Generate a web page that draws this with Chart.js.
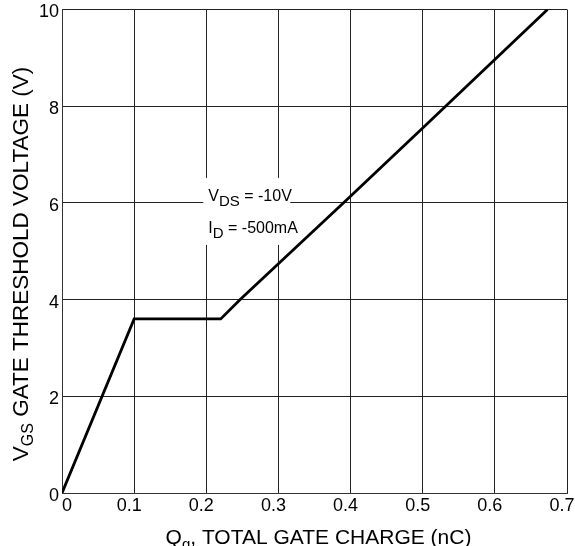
<!DOCTYPE html>
<html>
<head>
<meta charset="utf-8">
<script src="https://cdn.jsdelivr.net/npm/chart.js@4"></script>
<style>
  html, body { margin: 0; padding: 0; background: #fff; }
  #wrap { width: 575px; height: 546px; }
</style>
</head>
<body>
<div id="wrap"><canvas id="qgChart" width="575" height="546"></canvas></div>
<script>
// Gate charge curve
const gateCharge = [0, 0.1, 0.22, 0.247, 0.39, 0.5, 0.673];
const gateVoltage = [0, 3.6, 3.6, 4, 6, 7.55, 10];

const xTickLabels = ['0', '0.1', '0.2', '0.3', '0.4', '0.5', '0.6', '0.7'];
const yTickLabels = ['0', '2', '4', '6', '8', '10'];

const FONT = '"Liberation Sans", Arial, sans-serif';

// draws a string made of [text, isSub] parts starting at x, baseline y
function drawParts(ctx, parts, x, y, size, subSize, subDrop) {
  let cx = x;
  parts.forEach(([txt, sub]) => {
    ctx.font = (sub ? subSize : size) + 'px ' + FONT;
    ctx.fillText(txt, cx, sub ? y + subDrop : y);
    cx += ctx.measureText(txt).width;
  });
}

function partsWidth(ctx, parts, size, subSize) {
  let w = 0;
  parts.forEach(([txt, sub]) => {
    ctx.font = (sub ? subSize : size) + 'px ' + FONT;
    w += ctx.measureText(txt).width;
  });
  return w;
}

const labelsPlugin = {
  id: 'labels',
  beforeDatasetsDraw(chart) {
    const { ctx, scales: { x, y } } = chart;
    // condition note with white backing box
    const bx = x.getPixelForValue(0.2) - 3;
    const by = y.getPixelForValue(6);
    ctx.save();
    ctx.fillStyle = '#fff';
    ctx.fillRect(bx, by - 25, 87, 67);
    ctx.fillStyle = '#000';
    ctx.textBaseline = 'alphabetic';
    drawParts(ctx, [['V', false], ['DS', true], [' = -10V', false]], bx + 5, by - 1.5, 16, 15, 5);
    drawParts(ctx, [['I', false], ['D', true], [' = -500mA', false]], bx + 5, by + 30, 16, 15, 5);
    ctx.restore();
  },
  afterDraw(chart) {
    const { ctx, chartArea } = chart;
    ctx.save();
    ctx.fillStyle = '#000';
    ctx.textBaseline = 'alphabetic';

    // y axis title, rotated
    const yParts = [['V', false], ['GS', true], [' GATE THRESHOLD VOLTAGE (V)', false]];
    const yw = partsWidth(ctx, yParts, 22.5, 16);
    ctx.translate(28, 264);
    ctx.rotate(-Math.PI / 2);
    drawParts(ctx, yParts, -yw / 2, 0, 22.5, 16, 5);
    ctx.restore();

    // x axis title
    ctx.save();
    ctx.fillStyle = '#000';
    const xParts = [['Q', false], ['g', true], [', TOTAL GATE CHARGE (nC)', false]];
    const xw = partsWidth(ctx, xParts, 21, 15);
    const cx = (chartArea.left + chartArea.right) / 2;
    drawParts(ctx, xParts, cx - xw / 2 + 4, 544, 21, 15, 5);
    ctx.restore();
  }
};

new Chart(document.getElementById('qgChart'), {
  type: 'line',
  data: {
    datasets: [{
      data: gateCharge.map((q, i) => ({ x: q, y: gateVoltage[i] })),
      borderColor: '#000',
      borderWidth: 2.8,
      pointRadius: 0,
      tension: 0,
      fill: false
    }]
  },
  options: {
    responsive: false,
    animation: false,
    layout: { padding: { top: 9.5, right: 8, left: 0, bottom: 0 } },
    plugins: {
      legend: { display: false },
      tooltip: { enabled: false }
    },
    scales: {
      x: {
        type: 'linear',
        min: 0,
        max: 0.7,
        afterFit(scale) { scale.height = 53; scale.paddingRight = 0; scale.paddingLeft = 0; },
        ticks: {
          stepSize: 0.1,
          padding: 2,
          labelOffset: -5,
          color: '#000',
          font: { family: FONT, size: 18 },
          // first label sits just right of the origin in the original
          callback: (v, i) => (i === 0 ? '    ' : '') + xTickLabels[i]
        },
        grid: { color: '#222', lineWidth: 1, drawTicks: false },
        border: { color: '#333', width: 1 }
      },
      y: {
        type: 'linear',
        min: 0,
        max: 10,
        afterFit(scale) { scale.width = 62; scale.paddingTop = 0; scale.paddingBottom = 0; },
        ticks: {
          stepSize: 2,
          padding: 3,
          labelOffset: 3,
          color: '#000',
          font: { family: FONT, size: 18 },
          callback: (v, i) => yTickLabels[i]
        },
        grid: { color: '#222', lineWidth: 1, drawTicks: false },
        border: { color: '#333', width: 1 }
      }
    }
  },
  plugins: [labelsPlugin]
});
</script>
</body>
</html>
